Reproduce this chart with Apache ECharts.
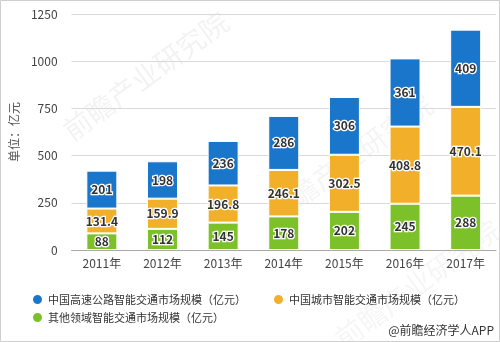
<!DOCTYPE html>
<html>
<head>
<meta charset="utf-8">
<script src="https://cdn.jsdelivr.net/npm/echarts@6/dist/echarts.min.js"></script>
<style>
  html, body { margin: 0; padding: 0; background: #fff; }
  #chart { width: 500px; height: 342px; }
</style>
</head>
<body>
<div id="chart"></div>
<script>
// Years on the category axis
const years = ['2011年', '2012年', '2013年', '2014年', '2015年', '2016年', '2017年'];

// Market size by segment, 亿元
const highwayValues = [201, 198, 236, 286, 306, 361, 409];
const cityValues = [131.4, 159.9, 196.8, 246.1, 302.5, 408.8, 470.1];
const otherValues = [88, 112, 145, 178, 202, 245, 288];

const seriesNames = [
  '中国高速公路智能交通市场规模（亿元）',
  '中国城市智能交通市场规模（亿元）',
  '其他领域智能交通市场规模（亿元）'
];

const FONT = '"Noto Sans CJK SC", "Noto Sans", sans-serif';

const labelStyle = {
  show: true,
  position: 'inside',
  color: '#333',
  fontFamily: FONT,
  fontSize: 12,
  fontWeight: 'bold',
  textBorderColor: '#fff',
  textBorderWidth: 2.5
};

function barSeries(name, data, color) {
  return {
    name: name,
    type: 'bar',
    stack: 'total',
    barWidth: 31,
    data: data,
    itemStyle: { color: color, borderColor: '#fff', borderWidth: 1 },
    label: labelStyle
  };
}

const legendBase = {
  icon: 'circle',
  itemWidth: 11,
  itemHeight: 11,
  itemGap: 26,
  textStyle: { color: '#333', fontSize: 11, fontFamily: FONT }
};

function watermark(x, y, alpha) {
  return {
    type: 'text',
    z: -1,
    silent: true,
    x: x, y: y,
    rotation: Math.PI / 5,
    style: {
      text: '前瞻产业研究院',
      fill: 'rgba(0,0,0,' + alpha + ')',
      font: '28px ' + FONT
    }
  };
}

const chart = echarts.init(document.getElementById('chart'), null, { renderer: 'canvas' });

chart.setOption({
  backgroundColor: '#fff',
  animation: false,
  textStyle: { fontFamily: FONT },
  grid: { left: 60, right: 4, top: 14, bottom: 92 },
  legend: [
    Object.assign({ data: [seriesNames[0], seriesNames[1]], left: 26, top: 288 }, legendBase),
    Object.assign({ data: [seriesNames[2]], left: 26, top: 306 }, legendBase)
  ],
  xAxis: {
    type: 'category',
    data: years,
    axisLine: { lineStyle: { color: '#aaa' } },
    axisTick: { alignWithLabel: true, length: 4, lineStyle: { color: '#aaa' } },
    axisLabel: { color: '#444', fontSize: 12, fontFamily: FONT, margin: 7 }
  },
  yAxis: {
    type: 'value',
    min: 0,
    max: 1250,
    interval: 250,
    name: '单位：亿元',
    nameLocation: 'middle',
    nameRotate: 90,
    nameGap: 48,
    nameTextStyle: { color: '#555', fontSize: 12, fontFamily: FONT },
    axisLine: { show: false },
    axisTick: { show: false },
    axisLabel: {
      color: '#444', fontSize: 12, fontFamily: FONT, margin: 14,
      formatter: function (v) { return String(v); }
    },
    splitLine: { lineStyle: { color: '#d9d9d9' } }
  },
  graphic: [
    {
      type: 'rect',
      z: 100,
      silent: true,
      shape: { x: 0.5, y: 0.5, width: 499, height: 341 },
      style: { fill: null, stroke: '#cfcfcf', lineWidth: 1 }
    },
    watermark(58, 122, 0.05),
    watermark(262, 205, 0.045),
    watermark(330, 330, 0.04),
    {
      type: 'text',
      right: 6,
      top: 324,
      style: {
        text: '@前瞻经济学人APP',
        fill: '#333',
        font: '12px ' + FONT
      }
    }
  ],
  series: [
    barSeries(seriesNames[2], otherValues, '#7CC12A'),
    barSeries(seriesNames[1], cityValues, '#F2B02A'),
    barSeries(seriesNames[0], highwayValues, '#1A76CB')
  ]
});
</script>
</body>
</html>
